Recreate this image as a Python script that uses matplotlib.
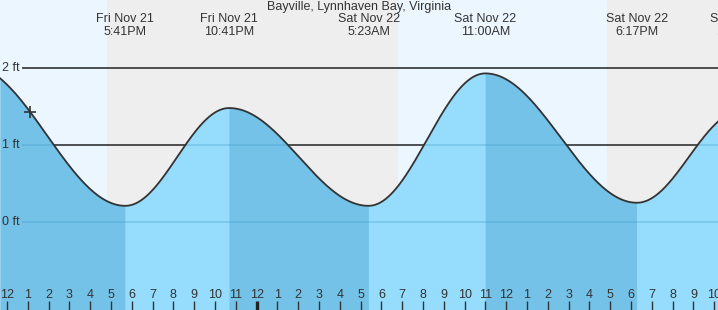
import numpy as np
import pandas as pd
import matplotlib
matplotlib.use("Agg")
import matplotlib.pyplot as plt

plt.rcParams["font.family"] = ["Liberation Sans", "DejaVu Sans"]

# tide extremes (first and last lie just outside the visible window)
event_times = ["2025-11-21 10:10", "2025-11-21 17:41", "2025-11-21 22:41",
               "2025-11-22 05:23", "2025-11-22 11:00", "2025-11-22 18:17",
               "2025-11-22 23:17"]
event_heights = [2.04, 0.21, 1.48, 0.21, 1.93, 0.25, 1.44]

# sunset / sunrise
sun_times = ["2025-11-21 16:49", "2025-11-22 06:48", "2025-11-22 16:51"]
now_time = "2025-11-21 13:07"

title = "Bayville, Lynnhaven Bay, Virginia"
y_ticks = [0, 1, 2]

start = pd.Timestamp("2025-11-21 12:00")
ev = pd.to_datetime(event_times)
ev_h = np.array((ev - start) / pd.Timedelta(hours=1))
ev_y = np.array(event_heights)
sun_h = np.array((pd.to_datetime(sun_times) - start) / pd.Timedelta(hours=1))
now_h = (pd.Timestamp(now_time) - start) / pd.Timedelta(hours=1)

# pixel geometry: 20.8 px per hour, hour 0 at x=7; 77 px per ft, 0 ft at y=222
px_h = 20.8
px_ft = 77.0
xmin, xmax = -7 / px_h, 711 / px_h
ymin, ymax = (222 - 310) / px_ft, 222 / px_ft


def tide(h):
    out = np.empty_like(h)
    for i in range(len(ev_h) - 1):
        m = (h >= ev_h[i]) & (h <= ev_h[i + 1])
        f = (h[m] - ev_h[i]) / (ev_h[i + 1] - ev_h[i])
        out[m] = ev_y[i] + (ev_y[i + 1] - ev_y[i]) * (1 - np.cos(np.pi * f)) / 2
    return out


fig = plt.figure(figsize=(7.18, 3.10), dpi=100)
ax = fig.add_axes([0, 0, 1, 1])
ax.set_xlim(xmin, xmax)
ax.set_ylim(ymin, ymax)
ax.axis("off")

# day / night background
day_c, night_c = "#ebf6ff", "#eeeeee"
edges = [xmin] + list(sun_h) + [xmax]
for i in range(len(edges) - 1):
    ax.axvspan(edges[i], edges[i + 1], color=day_c if i % 2 == 0 else night_c,
               lw=0, zorder=0)

# grid lines above the water
gx0 = (22 - 7) / px_h
ax.hlines([1, 2], gx0, xmax, color="#222222", lw=1.1, zorder=1)

t = np.linspace(xmin, xmax, 1500)
t = np.sort(np.concatenate([t, ev_h[(ev_h > xmin) & (ev_h < xmax)]]))
y = tide(t)

# fill: falling tide darker, rising tide lighter
for i in range(len(ev_h) - 1):
    m = (t >= ev_h[i]) & (t <= ev_h[i + 1])
    if not m.any():
        continue
    col = "#74c2e7" if ev_y[i] > ev_y[i + 1] else "#96dcfd"
    ax.fill_between(t[m], ymin, y[m], color=col, lw=0.3, ec=col, zorder=2)

clip = ax.fill_between(t, ymin, y, color="none", lw=0, zorder=0)
under = ax.hlines(y_ticks, gx0, xmax, color="#3c95c8", alpha=0.35, lw=1.1, zorder=3)
under.set_clip_path(clip.get_paths()[0], ax.transData)

ax.plot(t, y, color="#333333", lw=1.3, zorder=4)
ax.plot([now_h], [tide(np.array([now_h]))[0]], marker="+", ms=9, mew=1.2,
        color="#333333", zorder=5)

# y labels
for v in y_ticks:
    ax.text((2 - 7) / px_h, v, f"{v} ft", ha="left", va="center",
            fontsize=9, color="#333333", zorder=6)

# hour ticks
tick_top = (222 - 301) / px_ft
for h in range(0, 35):
    lab = (12 + h - 1) % 12 + 1
    if h % 24 == 12:
        ax.vlines(h, ymin, tick_top, color="#222222", lw=2.4, zorder=6)
    else:
        ax.vlines(h, ymin, tick_top, color="#333333", lw=1, zorder=6)
    ax.text(h, (222 - 295) / px_ft, str(lab), ha="center", va="center",
            fontsize=9, color="#333333", zorder=6)

# event labels
for tt, hh in zip(ev, ev_h):
    ax.text(hh, (222 - 19) / px_ft, tt.strftime("%a %b %d"), ha="center",
            va="center", fontsize=9, color="#333333", zorder=6)
    ax.text(hh, (222 - 32) / px_ft, tt.strftime("%I:%M%p").lstrip("0"),
            ha="center", va="center", fontsize=9, color="#333333", zorder=6)

ax.text((359 - 7) / px_h, (222 - 7) / px_ft, title, ha="center", va="center",
        fontsize=9, color="#333333", zorder=6)

fig.savefig("out.png", dpi=100)
